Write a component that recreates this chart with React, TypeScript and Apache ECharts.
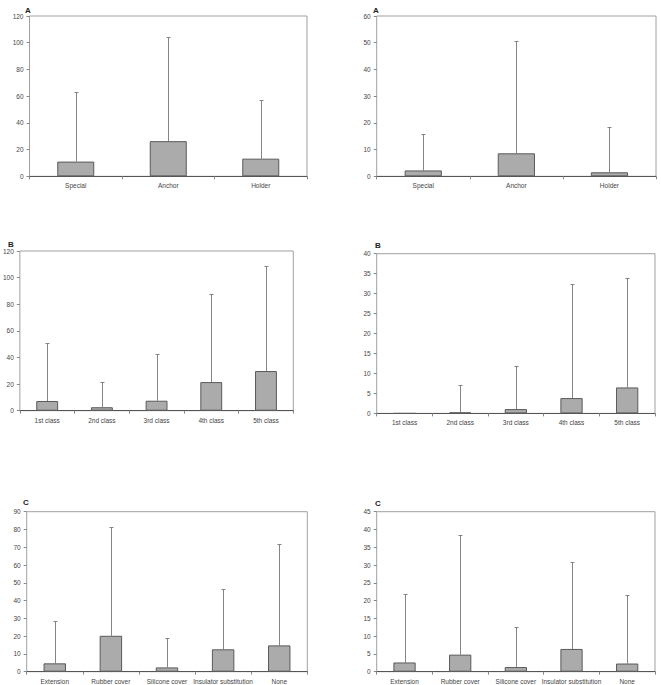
import React, { useEffect, useRef } from "react";
import * as echarts from "echarts";

const catsA = ["Special", "Anchor", "Holder"];
const catsB = ["1st class", "2nd class", "3rd class", "4th class", "5th class"];
const catsC = ["Extension", "Rubber cover", "Silicone cover", "Insulator substitution", "None"];

const aLeftMean = [11, 26.3, 13.2];
const aLeftUpper = [62.8, 104.3, 57.2];
const aRightMean = [2.2, 8.6, 1.5];
const aRightUpper = [15.8, 50.6, 18.3];

const bLeftMean = [7.3, 2.6, 7.5, 21.5, 29.8];
const bLeftUpper = [51.1, 21.8, 42.6, 87.7, 109];
const bRightMean = [0, 0.25, 1.08, 3.84, 6.5];
const bRightUpper = [0, 7.1, 11.85, 32.3, 33.8];

const cLeftMean = [4.7, 20.2, 2.4, 12.6, 14.8];
const cLeftUpper = [28.7, 81.4, 18.75, 46.3, 71.6];
const cRightMean = [2.6, 4.8, 1.3, 6.4, 2.3];
const cRightUpper = [21.8, 38.4, 12.7, 30.8, 21.6];

const yMax = [120, 60, 120, 40, 90, 45];
const yStep = [20, 10, 20, 5, 10, 5];
const titles = ["A", "A", "B", "B", "C", "C"];

const grids = [
  { left: 29.5, top: 16, width: 277.5, height: 160.3 },
  { left: 376.7, top: 16, width: 279.3, height: 160.3 },
  { left: 16.7, top: 251, width: 276.6, height: 159.7 },
  { left: 376.7, top: 253.7, width: 278.3, height: 159.7 },
  { left: 26.7, top: 511.7, width: 280.6, height: 160 },
  { left: 376.7, top: 511.7, width: 278.3, height: 160 },
];
const titlePos = [
  { left: 20, top: 1 },
  { left: 368, top: 1 },
  { left: 3, top: 235 },
  { left: 370, top: 236 },
  { left: 18, top: 493 },
  { left: 370, top: 494 },
];

export default function App() {
  const ref = useRef<HTMLDivElement>(null);
  useEffect(() => {
    if (!ref.current) return;
    const chart = echarts.init(ref.current, null, { renderer: "svg" });
    const panels = [
      { cats: catsA, mean: aLeftMean, upper: aLeftUpper },
      { cats: catsA, mean: aRightMean, upper: aRightUpper },
      { cats: catsB, mean: bLeftMean, upper: bLeftUpper },
      { cats: catsB, mean: bRightMean, upper: bRightUpper },
      { cats: catsC, mean: cLeftMean, upper: cLeftUpper },
      { cats: catsC, mean: cRightMean, upper: cRightUpper },
    ];
    const font = "Liberation Sans, Arial, sans-serif";
    const series: any[] = [];
    panels.forEach((p, i) => {
      series.push({
        type: "bar",
        xAxisIndex: i,
        yAxisIndex: i,
        data: p.mean,
        barWidth: "40%",
        itemStyle: { color: "#ababab", borderColor: "#5a5a5a", borderWidth: 1 },
        z: 3,
      });
      series.push({
        type: "custom",
        xAxisIndex: i,
        yAxisIndex: i,
        z: 2,
        data: p.mean.map((m, k) => [k, p.upper[k], m]),
        encode: { x: 0, y: [1, 2] },
        renderItem: (params: any, api: any) => {
          const x = api.value(0);
          const up = api.value(1);
          const m = api.value(2);
          if (up <= m) return { type: "group", children: [] };
          const top = api.coord([x, up]);
          const base = api.coord([x, m]);
          const cx = Math.round(top[0]) + 0.5;
          const ty = Math.round(top[1]) + 0.5;
          return {
            type: "group",
            children: [
              { type: "line", shape: { x1: cx, y1: ty, x2: cx, y2: base[1] }, style: { stroke: "#858585", lineWidth: 1 } },
              { type: "line", shape: { x1: cx - 2, y1: ty, x2: cx + 2, y2: ty }, style: { stroke: "#858585", lineWidth: 1 } },
            ],
          };
        },
      });
    });
    chart.setOption({
      animation: false,
      title: titles.map((t, i) => ({
        text: t,
        left: titlePos[i].left,
        top: titlePos[i].top,
        textStyle: { fontSize: 8, fontWeight: "bold", color: "#222", fontFamily: font },
      })),
      grid: grids.map((g) => ({ ...g, show: true, borderColor: "#a0a0a0", borderWidth: 1, backgroundColor: "transparent", containLabel: false })),
      xAxis: panels.map((p, i) => ({
        type: "category",
        gridIndex: i,
        data: p.cats,
        axisLine: { lineStyle: { color: "#555", width: 1 } },
        axisTick: { show: true, length: 3, lineStyle: { color: "#888" } },
        axisLabel: { fontSize: 6.5, color: "#444", fontFamily: font, margin: 6, interval: 0 },
      })),
      yAxis: panels.map((p, i) => ({
        type: "value",
        gridIndex: i,
        min: 0,
        max: yMax[i],
        interval: yStep[i],
        axisLine: { show: false },
        axisTick: { show: true, length: 3, lineStyle: { color: "#888" } },
        splitLine: { show: false },
        axisLabel: { fontSize: 6.5, color: "#444", fontFamily: font, margin: 6 },
      })),
      series,
    });
    return () => chart.dispose();
  }, []);
  return (
    <div
      ref={ref}
      style={{ position: "fixed", left: 0, top: 0, width: 661, height: 685, background: "#fff" }}
    />
  );
}
